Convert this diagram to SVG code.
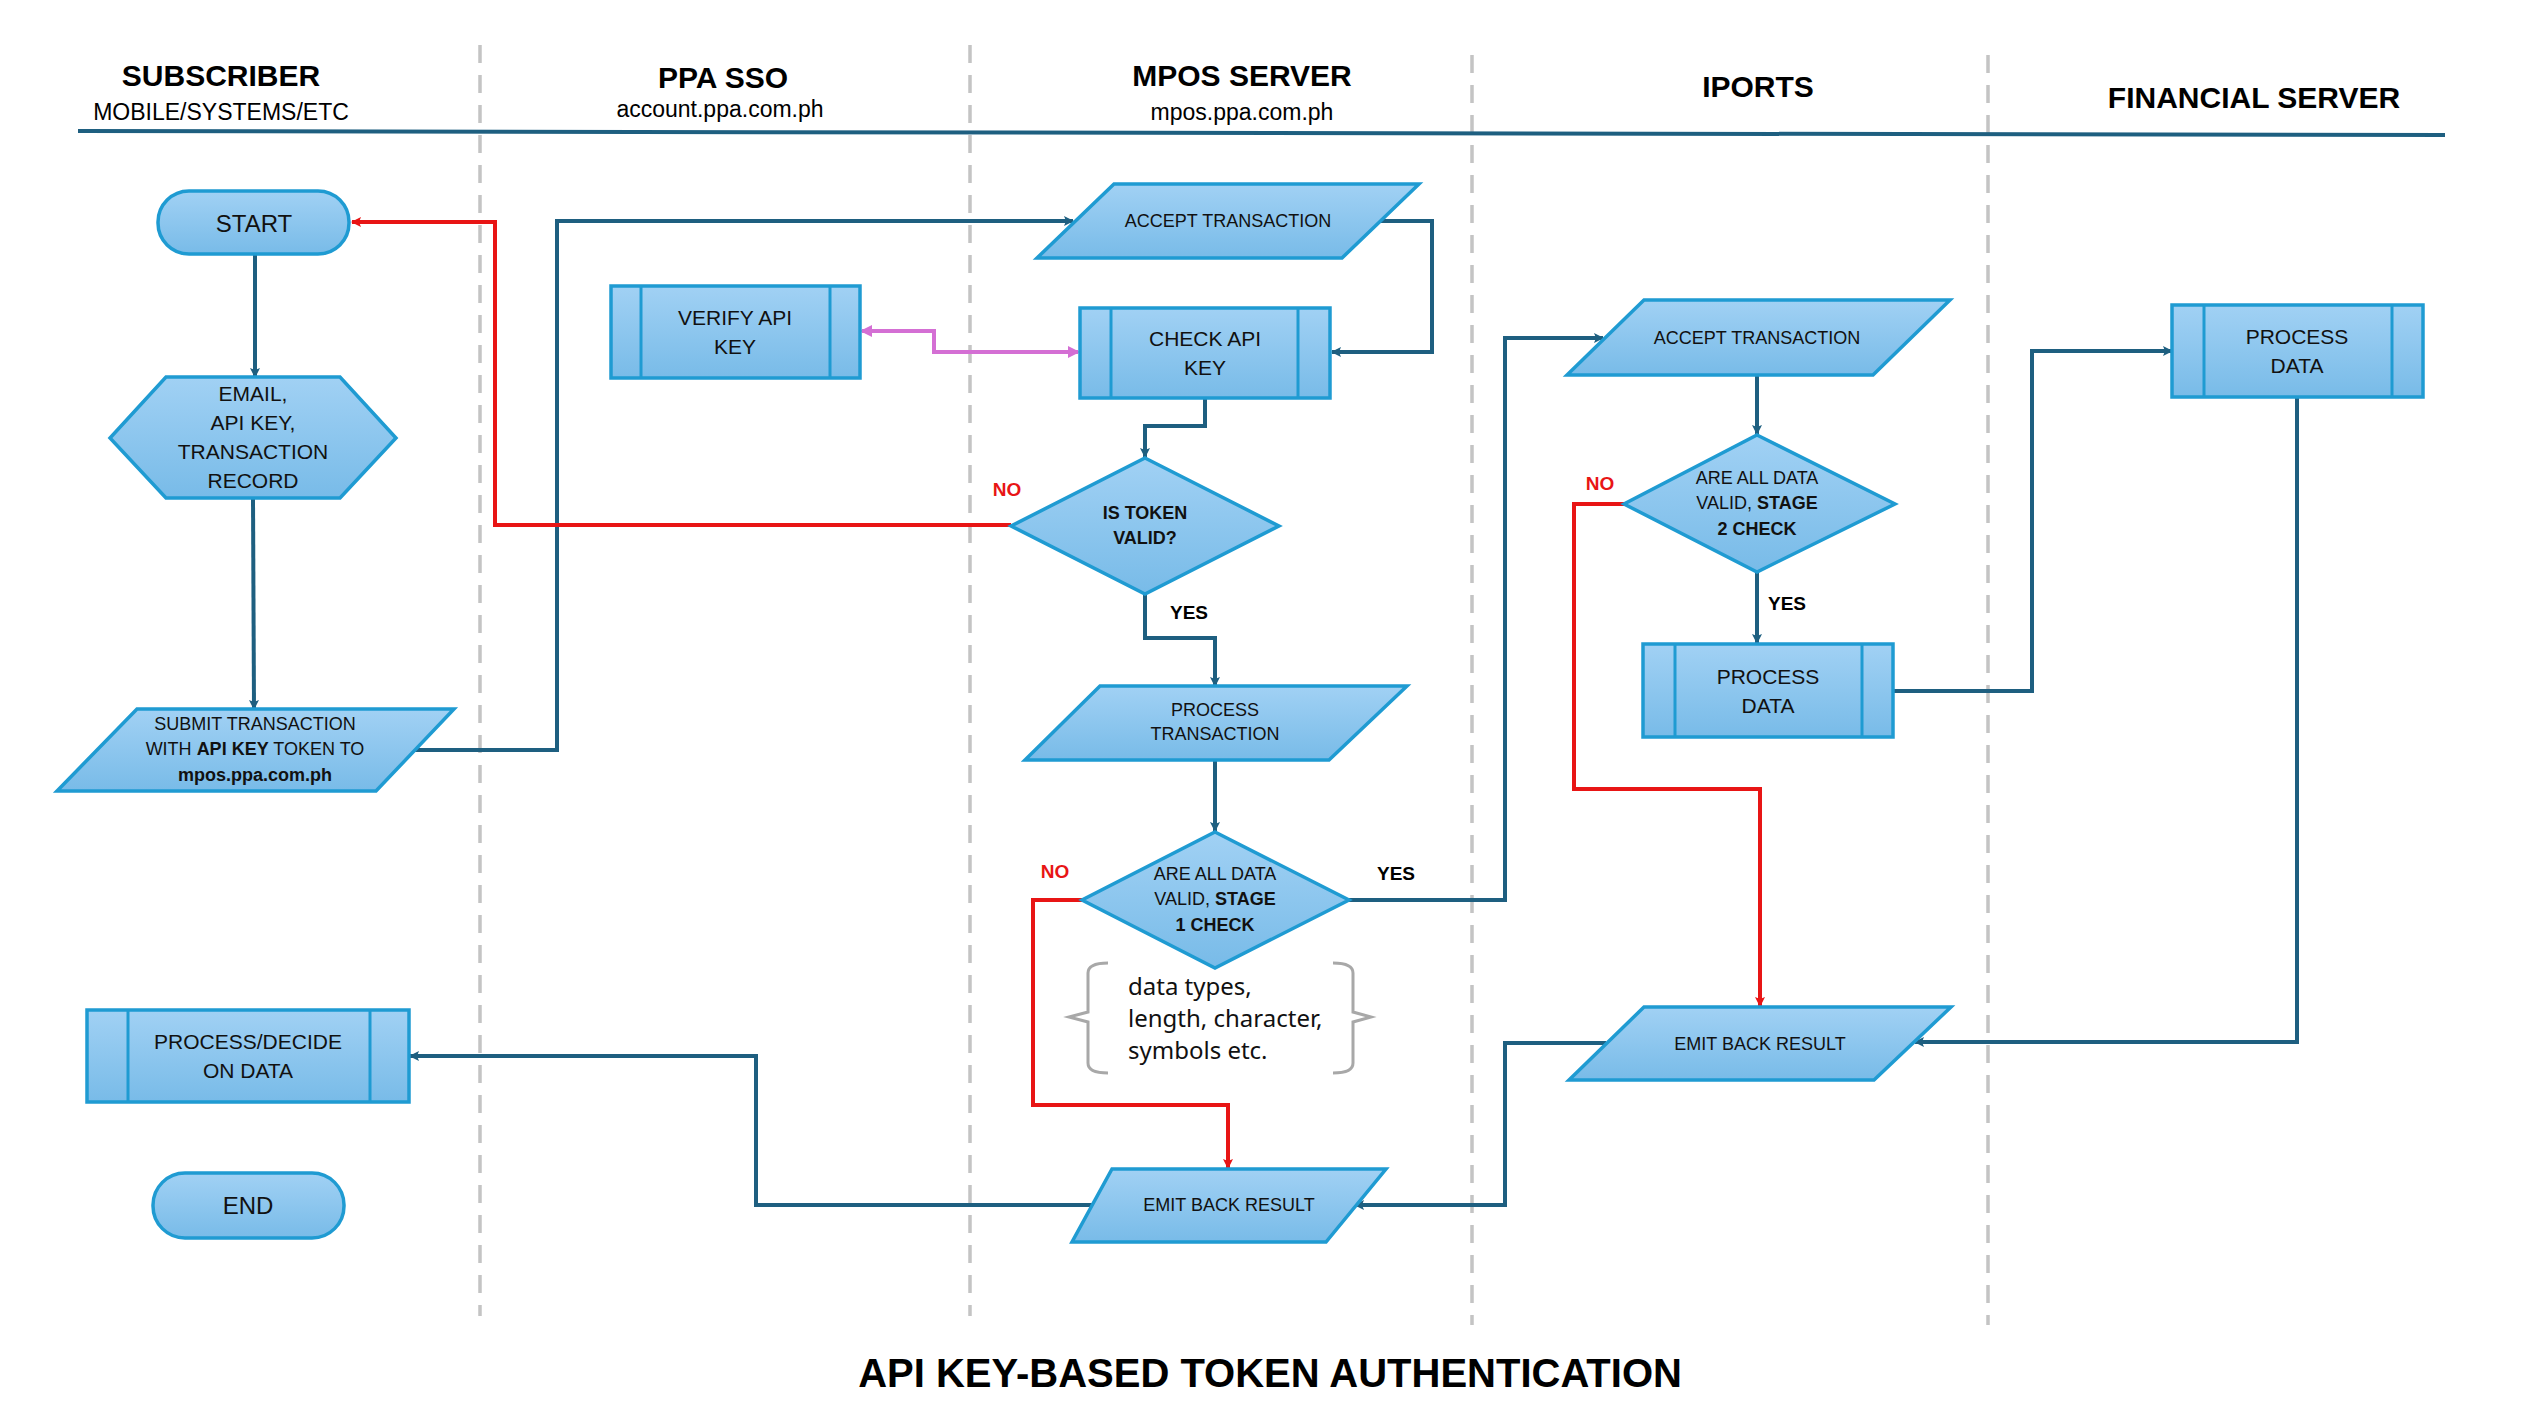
<svg xmlns="http://www.w3.org/2000/svg" width="2536" height="1410" viewBox="0 0 2536 1410">
<defs>
<linearGradient id="g" x1="0" y1="0" x2="0" y2="1"><stop offset="0" stop-color="#a1d1f4"/><stop offset="1" stop-color="#78bbe8"/></linearGradient>
<marker id="ab" markerWidth="10" markerHeight="10" refX="9" refY="5" orient="auto" markerUnits="userSpaceOnUse" viewBox="0 0 10 10"><path d="M0,0 L10,5 L0,10 L2,5 z" fill="#1e5f80"/></marker>
<marker id="ar" markerWidth="10" markerHeight="10" refX="9" refY="5" orient="auto" markerUnits="userSpaceOnUse" viewBox="0 0 10 10"><path d="M0,0 L10,5 L0,10 L2,5 z" fill="#e81515"/></marker>
<marker id="ap" markerWidth="12" markerHeight="12" refX="10" refY="6" orient="auto-start-reverse" markerUnits="userSpaceOnUse" viewBox="0 0 12 12"><path d="M0,0 L12,6 L0,12 z" fill="#d46fd4"/></marker>
</defs>
<style>
.s{fill:url(#g);stroke:#1f9bd2;stroke-width:3.5}
.il{stroke:#1f9bd2;stroke-width:3}
.t{font-family:"Liberation Sans",Arial,sans-serif;fill:#111;text-anchor:middle;dominant-baseline:central}
.h{font-family:"Liberation Sans",Arial,sans-serif;fill:#000;text-anchor:middle;font-weight:bold;font-size:30px}
.hs{font-family:"Liberation Sans",Arial,sans-serif;fill:#000;text-anchor:middle;font-size:23px}
.c{fill:none;stroke:#1e5f80;stroke-width:4}
.r{fill:none;stroke:#e81515;stroke-width:4}
.lane{stroke:#c4c4c4;stroke-width:3.5;stroke-dasharray:18 12}
.no{font-family:"Liberation Sans",Arial,sans-serif;fill:#e81515;font-weight:bold;font-size:19px;text-anchor:middle}
.yes{font-family:"Liberation Sans",Arial,sans-serif;fill:#000;font-weight:bold;font-size:19px;text-anchor:middle}
</style>
<rect width="2536" height="1410" fill="#fff"/>
<g id="lanes">
<line class="lane" x1="480" y1="45" x2="480" y2="1316"/>
<line class="lane" x1="970" y1="45" x2="970" y2="1316"/>
<line class="lane" x1="1472" y1="55" x2="1472" y2="1325"/>
<line class="lane" x1="1988" y1="55" x2="1988" y2="1325"/>
<line x1="78" y1="131" x2="2445" y2="135" stroke="#1e5f80" stroke-width="4"/>
</g>
<g id="headers">
<text class="h" x="221" y="86">SUBSCRIBER</text><text class="hs" x="221" y="120">MOBILE/SYSTEMS/ETC</text>
<text class="h" x="723" y="88">PPA SSO</text><text class="hs" x="720" y="117">account.ppa.com.ph</text>
<text class="h" x="1242" y="86">MPOS SERVER</text><text class="hs" x="1242" y="120">mpos.ppa.com.ph</text>
<text class="h" x="1758" y="97">IPORTS</text>
<text class="h" x="2254" y="108">FINANCIAL SERVER</text>
</g>
<g id="connectors">
<path class="c" d="M255,254 L255,377" marker-end="url(#ab)"/>
<path class="c" d="M253,498 L254,709" marker-end="url(#ab)"/>
<path class="c" d="M414,750 L557,750 L557,221 L1073,221" marker-end="url(#ab)"/>
<path class="c" d="M1381,221 L1432,221 L1432,352 L1332,352" marker-end="url(#ab)"/>
<path d="M862,331 L934,331 L934,352 L1078,352" fill="none" stroke="#d46fd4" stroke-width="4" marker-start="url(#ap)" marker-end="url(#ap)"/>
<path class="c" d="M1205,398 L1205,426 L1145,426 L1145,457" marker-end="url(#ab)"/>
<path class="r" d="M1011,525 L495,525 L495,222 L352,222" marker-end="url(#ar)"/>
<path class="c" d="M1145,594 L1145,638 L1215,638 L1215,686" marker-end="url(#ab)"/>
<path class="c" d="M1215,760 L1215,831" marker-end="url(#ab)"/>
<path class="r" d="M1082,900 L1033,900 L1033,1105 L1228,1105 L1228,1168" marker-end="url(#ar)"/>
<path class="c" d="M1349,900 L1505,900 L1505,338 L1603,338" marker-end="url(#ab)"/>
<path class="c" d="M1757,375 L1757,434" marker-end="url(#ab)"/>
<path class="c" d="M1757,572 L1757,643" marker-end="url(#ab)"/>
<path class="r" d="M1624,504 L1574,504 L1574,789 L1760,789 L1760,1006" marker-end="url(#ar)"/>
<path class="c" d="M1893,691 L2032,691 L2032,351 L2172,351" marker-end="url(#ab)"/>
<path class="c" d="M2297,397 L2297,1042 L1915,1042" marker-end="url(#ab)"/>
<path class="c" d="M1606,1043 L1505,1043 L1505,1205 L1355,1205" marker-end="url(#ab)"/>
<path class="c" d="M1104,1205 L756,1205 L756,1056 L410,1056" marker-end="url(#ab)"/>
</g>
<g id="start"><rect class="s" x="158" y="191" width="191" height="63" rx="31"/><text class="t" x="254" y="223" font-size="24">START</text></g>
<g id="input"><polygon class="s" points="166,377 340,377 396,438 340,498 166,498 110,438"/>
<text class="t" x="253" y="393" font-size="21">EMAIL,</text><text class="t" x="253" y="422" font-size="21">API KEY,</text><text class="t" x="253" y="451" font-size="21">TRANSACTION</text><text class="t" x="253" y="480" font-size="21">RECORD</text></g>
<g id="submit"><polygon class="s" points="137,709 454,709 376,791 57,791"/>
<text class="t" x="255" y="724" font-size="18">SUBMIT TRANSACTION</text>
<text class="t" x="255" y="749" font-size="18">WITH <tspan font-weight="bold">API KEY</tspan> TOKEN TO</text>
<text class="t" x="255" y="775" font-size="18" font-weight="bold">mpos.ppa.com.ph</text></g>
<g id="decide"><rect class="s" x="87" y="1010" width="322" height="92"/><line class="il" x1="128" y1="1010" x2="128" y2="1102"/><line class="il" x1="370" y1="1010" x2="370" y2="1102"/>
<text class="t" x="248" y="1041" font-size="21">PROCESS/DECIDE</text><text class="t" x="248" y="1070" font-size="21">ON DATA</text></g>
<g id="end"><rect class="s" x="153" y="1173" width="191" height="65" rx="32"/><text class="t" x="248" y="1205" font-size="24">END</text></g>
<g id="verify"><rect class="s" x="611" y="286" width="249" height="92"/><line class="il" x1="641" y1="286" x2="641" y2="378"/><line class="il" x1="830" y1="286" x2="830" y2="378"/>
<text class="t" x="735" y="317" font-size="21">VERIFY API</text><text class="t" x="735" y="346" font-size="21">KEY</text></g>
<g id="accept1"><polygon class="s" points="1114,184 1419,184 1342,258 1037,258"/><text class="t" x="1228" y="221" font-size="18">ACCEPT TRANSACTION</text></g>
<g id="checkapi"><rect class="s" x="1080" y="308" width="250" height="90"/><line class="il" x1="1111" y1="308" x2="1111" y2="398"/><line class="il" x1="1298" y1="308" x2="1298" y2="398"/>
<text class="t" x="1205" y="338" font-size="21">CHECK API</text><text class="t" x="1205" y="367" font-size="21">KEY</text></g>
<g id="token"><polygon class="s" points="1145,458 1279,526 1145,594 1011,526"/>
<text class="t" x="1145" y="513" font-size="18" font-weight="bold">IS TOKEN</text><text class="t" x="1145" y="538" font-size="18" font-weight="bold">VALID?</text></g>
<g id="process1"><polygon class="s" points="1100,686 1407,686 1329,760 1025,760"/>
<text class="t" x="1215" y="710" font-size="18">PROCESS</text><text class="t" x="1215" y="734" font-size="18">TRANSACTION</text></g>
<g id="stage1"><polygon class="s" points="1215,832 1349,900 1215,968 1082,900"/>
<text class="t" x="1215" y="874" font-size="18">ARE ALL DATA</text>
<text class="t" x="1215" y="899" font-size="18">VALID, <tspan font-weight="bold">STAGE</tspan></text>
<text class="t" x="1215" y="925" font-size="18" font-weight="bold">1 CHECK</text></g>
<g id="note">
<path d="M1108,963 Q1088,963 1088,973 L1088,1012 L1069,1017 L1088,1022 L1088,1063 Q1088,1073 1108,1073" fill="none" stroke="#a8a8a8" stroke-width="3"/>
<path d="M1333,963 Q1353,963 1353,973 L1353,1012 L1371,1017 L1353,1022 L1353,1063 Q1353,1073 1333,1073" fill="none" stroke="#a8a8a8" stroke-width="3"/>
<text font-family="'Noto Sans',sans-serif" font-size="24" fill="#111" x="1128" y="995">data types,</text>
<text font-family="'Noto Sans',sans-serif" font-size="24" fill="#111" x="1128" y="1027">length, character,</text>
<text font-family="'Noto Sans',sans-serif" font-size="24" fill="#111" x="1128" y="1059">symbols etc.</text>
</g>
<g id="emit1"><polygon class="s" points="1112,1169 1386,1169 1326,1242 1072,1242"/><text class="t" x="1229" y="1205" font-size="18">EMIT BACK RESULT</text></g>
<g id="accept2"><polygon class="s" points="1644,300 1950,300 1873,375 1567,375"/><text class="t" x="1757" y="338" font-size="18">ACCEPT TRANSACTION</text></g>
<g id="stage2"><polygon class="s" points="1757,435 1895,504 1757,572 1624,504"/>
<text class="t" x="1757" y="478" font-size="18">ARE ALL DATA</text>
<text class="t" x="1757" y="503" font-size="18">VALID, <tspan font-weight="bold">STAGE</tspan></text>
<text class="t" x="1757" y="529" font-size="18" font-weight="bold">2 CHECK</text></g>
<g id="process2"><rect class="s" x="1643" y="644" width="250" height="93"/><line class="il" x1="1675" y1="644" x2="1675" y2="737"/><line class="il" x1="1862" y1="644" x2="1862" y2="737"/>
<text class="t" x="1768" y="676" font-size="21">PROCESS</text><text class="t" x="1768" y="705" font-size="21">DATA</text></g>
<g id="emit2"><polygon class="s" points="1644,1007 1951,1007 1874,1080 1569,1080"/><text class="t" x="1760" y="1044" font-size="18">EMIT BACK RESULT</text></g>
<g id="finproc"><rect class="s" x="2172" y="305" width="251" height="92"/><line class="il" x1="2204" y1="305" x2="2204" y2="397"/><line class="il" x1="2392" y1="305" x2="2392" y2="397"/>
<text class="t" x="2297" y="336" font-size="21">PROCESS</text><text class="t" x="2297" y="365" font-size="21">DATA</text></g>
<g id="labels">
<text class="no" x="1007" y="496">NO</text><text class="yes" x="1189" y="619">YES</text>
<text class="no" x="1055" y="878">NO</text><text class="yes" x="1396" y="880">YES</text>
<text class="no" x="1600" y="490">NO</text><text class="yes" x="1787" y="610">YES</text>
</g>
<text x="1270" y="1387" font-family="'Liberation Sans',Arial,sans-serif" font-weight="bold" font-size="40" text-anchor="middle" fill="#000">API KEY-BASED TOKEN AUTHENTICATION</text>
</svg>
